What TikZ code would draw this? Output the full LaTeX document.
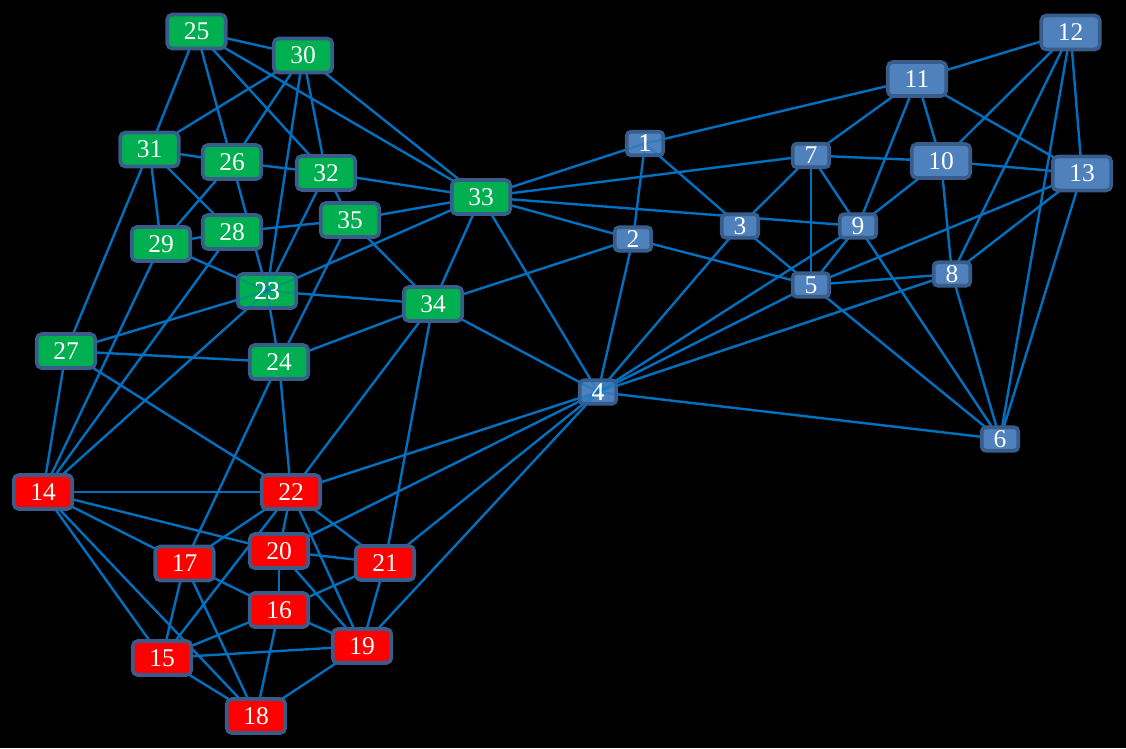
\documentclass[tikz,border=0pt]{standalone}
\usepackage{fontspec}
\setmainfont{Liberation Serif}
\usetikzlibrary{backgrounds}
\definecolor{gr}{RGB}{0,176,80}
\definecolor{rd}{RGB}{255,0,0}
\definecolor{bl}{RGB}{79,129,189}
\definecolor{bord}{RGB}{56,93,138}
\definecolor{ln}{RGB}{0,112,192}
\pgfdeclarelayer{front}
\pgfsetlayers{background,main,front}
\begin{document}
\begin{tikzpicture}[x=1pt,y=-1pt,
  nd/.style={rectangle, rounded corners=5pt, draw=bord, line width=3.6pt,
    text=white, font=\fontsize{25.5}{25.5}\selectfont, inner sep=0pt,
    minimum width=58.5pt, minimum height=34pt},
  gn/.style={nd, fill=gr},
  rn/.style={nd, fill=rd},
  bn/.style={nd, fill=bl},
  sb/.style={nd, fill=bl, minimum width=36.5pt, minimum height=23.5pt, rounded corners=4pt},
  lbl/.style={text=white, font=\fontsize{25.5}{25.5}\selectfont, inner sep=0pt},
  ed/.style={draw=ln, line width=2.4pt},
  faint/.style={draw=ln, line width=2.4pt, draw opacity=0.35}]
\useasboundingbox (0,0) rectangle (1126,748);

% blue group
\node[sb] (n1) at (645,143.5) {1};
\node[sb] (n2) at (633,239) {2};
\node[sb] (n3) at (740,226) {3};
\node[sb] (n4) at (598,392) {4};
\node[sb] (n5) at (811,285) {5};
\node[sb] (n6) at (1000,439) {6};
\node[sb] (n7) at (811,155.5) {7};
\node[sb] (n8) at (952,274) {8};
\node[sb] (n9) at (858,226) {9};
\node[bn] (n10) at (941,161) {10};
\node[bn] (n11) at (917,79) {11};
\node[bn] (n12) at (1070.5,32.5) {12};
\node[bn] (n13) at (1082,173.5) {13};

% red group
\node[rn] (n14) at (43,492) {14};
\node[rn] (n15) at (162,658) {15};
\node[rn] (n16) at (279,610) {16};
\node[rn] (n17) at (184.5,563.5) {17};
\node[rn] (n18) at (256,716) {18};
\node[rn] (n19) at (362,646) {19};
\node[rn] (n20) at (279,551) {20};
\node[rn] (n21) at (385,563) {21};
\node[rn] (n22) at (291,492) {22};

% green group
\node[gn] (n23) at (267,291) {23};
\node[gn] (n24) at (279,362) {24};
\node[gn] (n25) at (196.5,31.5) {25};
\node[gn] (n26) at (232,162) {26};
\node[gn] (n27) at (66,351) {27};
\node[gn] (n28) at (232,232) {28};
\node[gn] (n29) at (161,244) {29};
\node[gn] (n30) at (303,55.5) {30};
\node[gn] (n31) at (149.5,149.5) {31};
\node[gn] (n32) at (326,173) {32};
\node[gn] (n33) at (481,197) {33};
\node[gn] (n34) at (433,304) {34};
\node[gn] (n35) at (350,220) {35};

\begin{pgfonlayer}{background}
\fill[black] (0,0) rectangle (1126,748);
\foreach \a/\b in {
  25/30, 25/31, 25/26, 25/32, 25/33,
  30/31, 30/26, 30/23, 30/32, 30/33,
  31/26, 31/29, 31/28, 31/27,
  26/32, 26/23, 26/29,
  28/29, 28/35, 28/14,
  29/23, 29/14,
  32/35, 32/33, 32/23,
  35/33, 35/34, 35/24,
  33/23, 33/34, 33/4, 33/1, 33/7, 33/9, 33/2,
  23/34, 23/24, 23/27, 23/14,
  27/24, 27/22, 27/14,
  24/34, 24/22, 24/17,
  34/22, 34/21, 34/4, 34/2,
  1/2, 1/3, 1/11,
  2/5, 2/4,
  3/7, 3/5, 3/4,
  7/5, 7/9, 7/10, 7/11,
  9/11, 9/10, 9/5, 9/4, 9/6,
  5/8, 5/13, 5/6, 5/4,
  8/4, 8/10, 8/12, 8/13, 8/6,
  10/11, 10/12, 10/13,
  11/12, 11/13,
  12/13, 12/6, 13/6, 4/6,
  4/22, 4/20, 4/21, 4/19,
  22/14, 22/20, 22/17, 22/21, 22/19, 22/15,
  20/21, 20/16, 20/19, 20/14,
  21/16, 21/19,
  19/16, 19/15, 19/18,
  16/15, 16/17, 16/18,
  17/15, 17/18, 17/14,
  15/14, 15/18, 14/18}
  \draw[ed] (n\a.center) -- (n\b.center);
\end{pgfonlayer}

% connectors that show faintly across boxes 1, 4 and 23 (inside the border only)
\begin{pgfonlayer}{front}
\begin{scope}
  \clip ([shift={(1.8,-1.8)}]n1.south west) rectangle ([shift={(-1.8,1.8)}]n1.north east);
  \foreach \b in {2,3,11,33} \draw[faint] (n1.center) -- (n\b.center);
\end{scope}
\node[lbl] (l1) at (n1) {1};
\begin{scope}
  \clip ([shift={(1.8,-1.8)}]n4.south west) rectangle ([shift={(-1.8,1.8)}]n4.north east);
  \foreach \b in {2,3,5,6,8,9,19,20,21,22,33,34} \draw[faint] (n4.center) -- (n\b.center);
\end{scope}
\node[lbl] (l4) at (n4) {4};
\begin{scope}
  \clip ([shift={(1.8,-1.8)}]n23.south west) rectangle ([shift={(-1.8,1.8)}]n23.north east);
  \foreach \b in {14,24,26,27,29,30,32,33,34} \draw[faint] (n23.center) -- (n\b.center);
\end{scope}
\node[lbl] (l23) at (n23) {23};
\end{pgfonlayer}
\end{tikzpicture}
\end{document}
